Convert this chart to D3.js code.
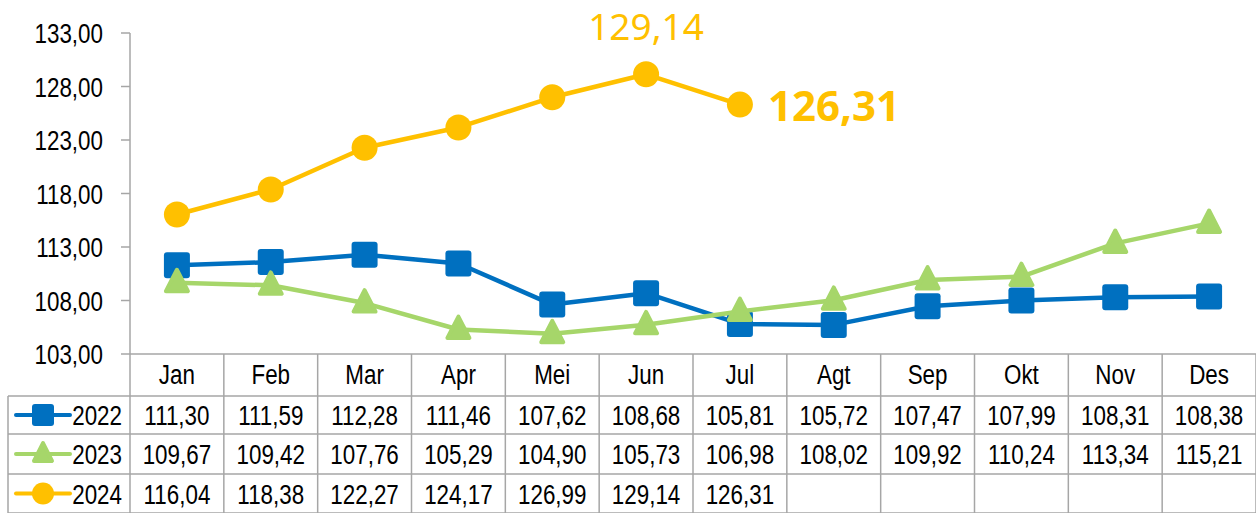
<!DOCTYPE html>
<html>
<head>
<meta charset="utf-8">
<script src="https://cdn.jsdelivr.net/npm/d3@7"></script>
<style>
  body { margin: 0; background: #fff; }
  svg { display: block; font-family: "Liberation Sans", Arial, sans-serif; }
</style>
</head>
<body>
<div id="chart"></div>
<script>
var months = ['Jan', 'Feb', 'Mar', 'Apr', 'Mei', 'Jun', 'Jul', 'Agt', 'Sep', 'Okt', 'Nov', 'Des'];
var years = ['2022', '2023', '2024'];
var v2022 = [111.30, 111.59, 112.28, 111.46, 107.62, 108.68, 105.81, 105.72, 107.47, 107.99, 108.31, 108.38];
var v2023 = [109.67, 109.42, 107.76, 105.29, 104.90, 105.73, 106.98, 108.02, 109.92, 110.24, 113.34, 115.21];
var v2024 = [116.04, 118.38, 122.27, 124.17, 126.99, 129.14, 126.31];
var yTicks = [103, 108, 113, 118, 123, 128, 133];

var width = 1256,
    height = 513;

var series = [
  { name: years[0], values: v2022, color: '#0070C0', shape: 'square' },
  { name: years[1], values: v2023, color: '#A6D66A', shape: 'triangle' },
  { name: years[2], values: v2024, color: '#FFC000', shape: 'circle' }
];

var loc = d3.formatLocale({ decimal: ',', thousands: '.', grouping: [3], currency: ['', ''] });
var fmt = loc.format('.2f');

var xScale = d3.scaleBand()
    .domain(months)
    .range([130, width]);

var yScale = d3.scaleLinear()
    .domain([103, 133])
    .range([354, 33]);

var rowTop = [354, 396, 434, 474, 513];
var grid = '#A6A6A6';

var svg = d3.select('#chart').append('svg')
    .attr('width', width)
    .attr('height', height);

// narrow text helper (source font is condensed)
function label(g, x, y, txt, anchor) {
  return g.append('text')
    .attr('transform', 'translate(' + x + ',' + y + ') scale(0.8,1)')
    .attr('text-anchor', anchor || 'middle')
    .attr('font-size', 28)
    .attr('fill', '#000')
    .text(txt);
}

// y axis
var axis = svg.append('g');
axis.append('line')
    .attr('x1', 130).attr('x2', 130)
    .attr('y1', yScale(133)).attr('y2', height)
    .attr('stroke', grid).attr('stroke-width', 1.5);
yTicks.forEach(function(t) {
  axis.append('line')
      .attr('x1', 121).attr('x2', 130)
      .attr('y1', yScale(t)).attr('y2', yScale(t))
      .attr('stroke', grid).attr('stroke-width', 1.5);
  label(axis, 103, yScale(t) + 10, fmt(t), 'end');
});

// data table
var table = svg.append('g');
rowTop.forEach(function(y, i) {
  table.append('line')
      .attr('x1', i === 0 ? 130 : 8).attr('x2', width)
      .attr('y1', y).attr('y2', y)
      .attr('stroke', grid).attr('stroke-width', 1.5);
});
table.append('line')
    .attr('x1', 8).attr('x2', 8)
    .attr('y1', rowTop[1]).attr('y2', height)
    .attr('stroke', grid).attr('stroke-width', 1.5);
months.forEach(function(m) {
  table.append('line')
      .attr('x1', xScale(m) + xScale.bandwidth()).attr('x2', xScale(m) + xScale.bandwidth())
      .attr('y1', rowTop[0]).attr('y2', height)
      .attr('stroke', grid).attr('stroke-width', 1.5);
  label(table, xScale(m) + xScale.bandwidth() / 2, 384, m);
});

function marker(g, shape, color, x, y, s) {
  if (shape === 'square') {
    g.append('rect')
        .attr('x', x - s / 2).attr('y', y - s / 2)
        .attr('width', s).attr('height', s)
        .attr('rx', 3)
        .attr('fill', color);
  } else if (shape === 'triangle') {
    var h = s * 0.9;
    g.append('path')
        .attr('d', 'M' + x + ',' + (y - h * 0.55) + 'L' + (x + s / 2 - 2) + ',' + (y + h * 0.45 - 2) + 'L' + (x - s / 2 + 2) + ',' + (y + h * 0.45 - 2) + 'Z')
        .attr('fill', color)
        .attr('stroke', color)
        .attr('stroke-width', 4)
        .attr('stroke-linejoin', 'round');
  } else {
    g.append('circle')
        .attr('cx', x).attr('cy', y).attr('r', s / 2)
        .attr('fill', color);
  }
}

series.forEach(function(s, i) {
  var cy = (rowTop[i + 1] + rowTop[i + 2]) / 2;
  var lg = table.append('g');
  lg.append('line')
      .attr('x1', 16).attr('x2', 70)
      .attr('y1', cy).attr('y2', cy)
      .attr('stroke', s.color).attr('stroke-width', 4)
      .attr('stroke-linecap', 'round');
  marker(lg, s.shape, s.color, 43, cy, 22);
  label(lg, 122, cy + 10, s.name, 'end');
  s.values.forEach(function(v, j) {
    label(table, xScale(months[j]) + xScale.bandwidth() / 2, cy + 10, fmt(v));
  });
});

// lines and markers
var line = d3.line()
    .x(function(d, i) { return xScale(months[i]) + xScale.bandwidth() / 2; })
    .y(function(d) { return yScale(d); });

series.forEach(function(s) {
  var g = svg.append('g');
  g.append('path')
      .attr('d', line(s.values))
      .attr('fill', 'none')
      .attr('stroke', s.color)
      .attr('stroke-width', 4.5)
      .attr('stroke-linejoin', 'round');
  s.values.forEach(function(v, j) {
    marker(g, s.shape, s.color, xScale(months[j]) + xScale.bandwidth() / 2, yScale(v), 26);
  });
});

// highlighted values for 2024
var peak = v2024.indexOf(d3.max(v2024));
var last = v2024.length - 1;
svg.append('text')
    .attr('x', xScale(months[peak]) + xScale.bandwidth() / 2)
    .attr('y', yScale(v2024[peak]) - 34)
    .attr('text-anchor', 'middle')
    .attr('font-family', '"Noto Sans", sans-serif')
    .attr('font-size', 37)
    .attr('fill', '#FFC000')
    .text(fmt(v2024[peak]));
svg.append('text')
    .attr('x', xScale(months[last]) + xScale.bandwidth() / 2 + 28)
    .attr('y', yScale(v2024[last]) + 16)
    .attr('text-anchor', 'start')
    .attr('font-family', '"Noto Sans", sans-serif')
    .attr('font-weight', 'bold')
    .attr('font-size', 42)
    .attr('fill', '#FFC000')
    .text(fmt(v2024[last]));
</script>
</body>
</html>
